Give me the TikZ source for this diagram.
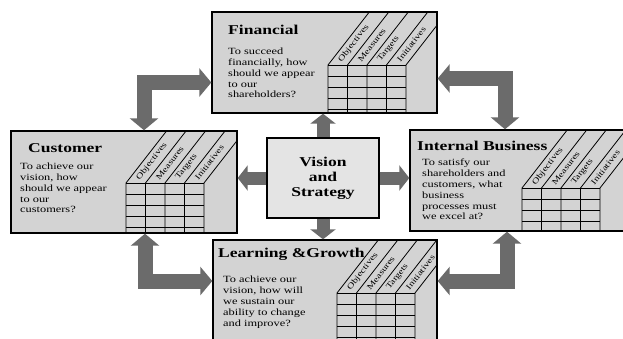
\documentclass[tikz,border=0pt]{standalone}
\usepackage{fontspec}
\setmainfont[FakeStretch=1.3]{Liberation Serif}
\usetikzlibrary{arrows.meta}

\definecolor{boxgray}{HTML}{D3D3D3}
\definecolor{visgray}{HTML}{E4E4E4}
\definecolor{arrowgray}{HTML}{6B6B6B}

% measures table: box to clip to, left edge, top of the grid
\newcommand{\bscgrid}[3]{%
	\begin{scope}
		\clip (#1.north west) rectangle (#1.south east);
		\foreach \i in {0,...,4}
			\draw[line width=0.8pt] (#2+\i*19.5,#3) -- (#2+\i*19.5,#3+60)
				(#2+\i*19.5,#3) -- ++(60,-77);
		\foreach \j in {0,...,5}
			\draw[line width=0.7pt] (#2,#3+\j*11) -- (#2+78,#3+\j*11);
		\foreach \lab [count=\i from 0] in {Objectives,Measures,Targets,Initiatives}
			\node[head] at (#2+\i*19.5+12,#3-4) {\lab};
	\end{scope}}

\begin{document}
\begin{tikzpicture}[x=1pt,y=-1pt]
	\tikzstyle{every node}=[align=left,inner sep=0pt]
	\tikzstyle{box}=[draw,line width=1.4pt,fill=boxgray]
	\tikzstyle{title}=[anchor=base west,font=\fontsize{13.5}{15}\selectfont\bfseries]
	\tikzstyle{txt}=[anchor=north west,font=\fontsize{9.5}{10.8}\selectfont]
	\tikzstyle{head}=[rotate=52,anchor=west,font=\fontsize{8}{9}\selectfont]
	\tikzstyle{bigarrow}=[draw=arrowgray,line width=15pt,{Triangle[width=28pt,length=12pt]}-{Triangle[width=28pt,length=12pt]}]
	\tikzstyle{smallarrow}=[draw=arrowgray,line width=13pt,-{Triangle[width=25pt,length=10pt]}]

	\useasboundingbox (0,0) rectangle (623,338);
	\fill[white] (0,0) rectangle (623,338);

	% the four perspectives
	\node[box,minimum width=225pt,minimum height=101pt] (fin) at (324.5,62.5) {};
	\node[box,minimum width=226pt,minimum height=102pt] (cust) at (124,182) {};
	\node[box,minimum width=230pt,minimum height=101pt] (int) at (525,180.5) {};
	\node[box,minimum width=224pt,minimum height=102pt] (learn) at (325,291) {};

	\node[box,fill=visgray,align=center,minimum width=112pt,minimum height=80pt,
		font=\fontsize{13.5}{15}\selectfont\bfseries] (vis) at (323,178) {Vision\\and\\Strategy};

	\node[title] (fintitle) at (228,34) {Financial};
	\node[txt] (fintext) at (228,48) {To succeed\\financially, how\\should we appear\\to our\\shareholders?};
	\bscgrid{fin}{328}{65}

	\node[title] (custtitle) at (28,152) {Customer};
	\node[txt] (custtext) at (20,163) {To achieve our\\vision, how\\should we appear\\to our\\customers?};
	\bscgrid{cust}{126}{183}

	\node[title] (inttitle) at (417,150) {Internal Business};
	\node[txt] (inttext) at (422,159) {To satisfy our\\shareholders and\\customers, what\\business\\processes must\\we excel at?};
	\bscgrid{int}{522}{188}

	\node[title] (learntitle) at (218,257) {Learning \&Growth};
	\node[txt] (learntext) at (223,276) {To achieve our\\vision, how will\\we sustain our\\ability to change\\and improve?};
	\bscgrid{learn}{337}{293}

	% links between the perspectives
	\draw[bigarrow] ([xshift=20pt]cust.north) |- ([yshift=-20pt]fin.west);
	\draw[bigarrow] ([yshift=-16pt]fin.east) -| ([xshift=-20pt]int.north);
	\draw[bigarrow] ([xshift=21pt]cust.south) |- ([yshift=10pt]learn.west);
	\draw[bigarrow] ([xshift=-18pt]int.south) |- ([yshift=10pt]learn.east);

	% from the centre outwards
	\draw[smallarrow] (vis.north) -- (vis.north |- fin.south);
	\draw[smallarrow] (vis.south) -- (vis.south |- learn.north);
	\draw[smallarrow] (vis.west) -- (vis.west -| cust.east);
	\draw[smallarrow] (vis.east) -- (vis.east -| int.west);
\end{tikzpicture}
\end{document}
